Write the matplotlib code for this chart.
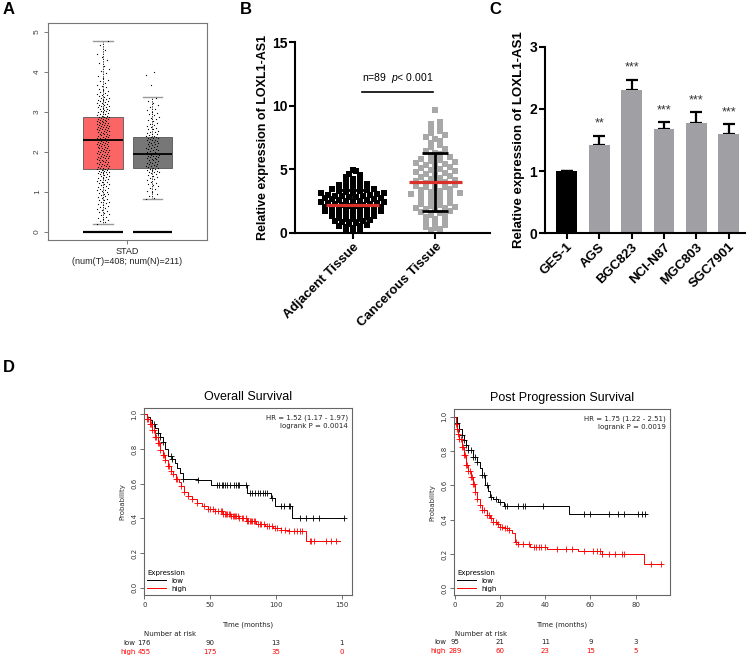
import matplotlib
matplotlib.use("Agg")
import matplotlib.pyplot as plt
import matplotlib.transforms as mtransforms
from matplotlib.lines import Line2D
import numpy as np

plt.rcParams['font.family'] = ['Liberation Sans', 'DejaVu Sans']
plt.rcParams['mathtext.fontset'] = 'custom'
plt.rcParams['mathtext.it'] = 'Liberation Sans:italic'
plt.rcParams['mathtext.rm'] = 'Liberation Sans'

# ---------------- data ----------------
# A: GEPIA box plot (STAD)
gepia_groups = ['Tumor', 'Normal']
gepia_box = [
    dict(med=2.30, q1=1.58, q3=2.87, whislo=0.20, whishi=4.77, fliers=[]),
    dict(med=1.95, q1=1.60, q3=2.38, whislo=0.82, whishi=3.38, fliers=[]),
]
tumor_vals = [
    0.21, 0.24, 0.27, 0.3, 0.33, 0.35, 0.38, 0.42, 0.45, 0.47, 0.5, 0.53, 0.55, 0.58, 0.6, 0.62,
    0.65, 0.67, 0.69, 0.72, 0.74, 0.76, 0.79, 0.81, 0.83, 0.86, 0.88, 0.9, 0.92, 0.94, 0.96, 0.98,
    1.01, 1.02, 1.04, 1.06, 1.08, 1.1, 1.12, 1.13, 1.15, 1.17, 1.19, 1.2, 1.22, 1.24, 1.26, 1.27,
    1.29, 1.31, 1.32, 1.34, 1.36, 1.37, 1.39, 1.41, 1.42, 1.44, 1.45, 1.47, 1.48, 1.49,
    1.5, 1.51, 1.52, 1.53, 1.54, 1.55, 1.57, 1.58, 1.59, 1.6, 1.61, 1.63, 1.64, 1.65, 1.66, 1.67,
    1.69, 1.7, 1.71, 1.72, 1.74, 1.75, 1.76, 1.77, 1.79, 1.8, 1.81, 1.82, 1.84, 1.85, 1.86, 1.87,
    1.88, 1.89, 1.9, 1.91, 1.93, 1.94, 1.95, 1.96, 1.98, 1.99,
    2.0, 2.01, 2.02, 2.03, 2.04, 2.05, 2.06, 2.08, 2.09, 2.1, 2.11, 2.12, 2.13, 2.14, 2.16, 2.17,
    2.18, 2.19, 2.2, 2.21, 2.22, 2.23, 2.24, 2.25, 2.26, 2.27, 2.28, 2.29, 2.3, 2.31, 2.32, 2.33,
    2.34, 2.35, 2.36, 2.37, 2.38, 2.39, 2.41, 2.42, 2.43, 2.44, 2.45, 2.46, 2.48, 2.49,
    2.5, 2.51, 2.52, 2.53, 2.54, 2.55, 2.56, 2.57, 2.58, 2.59, 2.6, 2.61, 2.62, 2.63, 2.64, 2.65,
    2.66, 2.67, 2.68, 2.69, 2.7, 2.71, 2.72, 2.73, 2.74, 2.75, 2.76, 2.77, 2.78, 2.79, 2.8, 2.81,
    2.82, 2.83, 2.84, 2.85, 2.86, 2.87, 2.88, 2.89, 2.9, 2.92, 2.94, 2.95, 2.97, 2.99,
    3.0, 3.01, 3.03, 3.04, 3.05, 3.07, 3.08, 3.1, 3.11, 3.12, 3.14, 3.15, 3.17, 3.18, 3.2, 3.21,
    3.23, 3.24, 3.26, 3.27, 3.29, 3.3, 3.32, 3.34, 3.35, 3.37, 3.39, 3.41, 3.43, 3.45, 3.47, 3.49,
    3.52, 3.55, 3.58, 3.61, 3.65, 3.68, 3.72, 3.76, 3.8, 3.85, 3.9, 3.96,
    4.02, 4.08, 4.15, 4.22, 4.3, 4.38, 4.45, 4.55, 4.66, 4.77,
]
normal_vals = [
    0.82, 0.86, 0.9, 0.95, 0.99, 1.03, 1.07, 1.1, 1.14, 1.17, 1.2, 1.23, 1.26, 1.29, 1.32, 1.35,
    1.38, 1.4, 1.43, 1.45, 1.47, 1.49,
    1.5, 1.51, 1.53, 1.54, 1.56, 1.57, 1.58, 1.6, 1.61, 1.62, 1.64, 1.65, 1.66, 1.68, 1.69, 1.7,
    1.72, 1.73, 1.75, 1.76, 1.78, 1.79, 1.8, 1.82, 1.83, 1.85, 1.86, 1.87, 1.88, 1.89, 1.9, 1.91,
    1.92, 1.93, 1.94, 1.95, 1.97, 1.98,
    2.0, 2.01, 2.02, 2.04, 2.05, 2.07, 2.08, 2.1, 2.11, 2.13, 2.14, 2.16, 2.17, 2.19, 2.2, 2.22,
    2.23, 2.25, 2.26, 2.28, 2.29, 2.3, 2.31, 2.33, 2.34, 2.35, 2.36, 2.37, 2.38, 2.4, 2.41, 2.43,
    2.44, 2.46, 2.47, 2.49,
    2.51, 2.53, 2.56, 2.58, 2.6, 2.63, 2.65, 2.68, 2.7, 2.73, 2.76, 2.79, 2.82, 2.85, 2.88, 2.91,
    2.94, 2.97, 3.0, 3.04, 3.08, 3.12, 3.17, 3.22, 3.28, 3.34, 3.66, 3.92, 4.0,
]

# B: tissue scatter
tissue_labels = ['Adjacent Tissue', 'Cancerous Tissue']
adjacent_vals = [
    0.21, 0.28, 0.33, 0.37, 0.45, 0.52, 0.58, 0.66, 0.71, 0.78, 0.84, 0.92, 0.97, 1.03, 1.08,
    1.12, 1.19, 1.24, 1.31, 1.36, 1.42, 1.45, 1.51, 1.57, 1.62, 1.66, 1.71, 1.74, 1.79, 1.83,
    1.88, 1.91, 1.95, 1.99, 2.03, 2.06, 2.11, 2.14, 2.18, 2.22, 2.25, 2.29, 2.33, 2.36, 2.41,
    2.44, 2.48, 2.52, 2.56, 2.61, 2.64, 2.68, 2.72, 2.77, 2.81, 2.85, 2.88, 2.93, 2.97, 3.02,
    3.06, 3.11, 3.14, 3.18, 3.22, 3.27, 3.31, 3.36, 3.42, 3.47, 3.55, 3.62, 3.68, 3.74, 3.83,
    3.91, 4.02, 4.13, 4.27, 4.38, 4.52, 4.66, 4.84, 4.97, 1.15, 1.68, 2.01, 2.47, 2.9,
]
cancerous_vals = [
    0.22, 0.3, 0.38, 0.5, 0.62, 0.75, 0.88, 1.0, 1.1, 1.22, 1.35, 1.45,
    1.55, 1.62, 1.7, 1.78, 1.85, 1.93, 2.0, 2.08, 2.15, 2.22, 2.3, 2.38, 2.46, 2.55, 2.63, 2.72,
    2.8, 2.88, 2.95, 2.99,
    3.05, 3.12, 3.2, 3.28, 3.35, 3.42, 3.5, 3.58, 3.65, 3.72, 3.8, 3.88, 3.95, 4.03, 4.1, 4.18,
    4.26, 4.34, 4.42, 4.49,
    4.56, 4.64, 4.72, 4.8, 4.88, 4.95, 5.03, 5.1, 5.18, 5.26, 5.34, 5.42, 5.5, 5.58, 5.67, 5.76,
    5.85, 5.94,
    6.05, 6.18, 6.3, 6.45, 6.6, 6.75, 6.9, 7.05, 7.2, 7.35, 7.52, 7.68, 7.85, 8.02, 8.2, 8.38,
    8.55, 8.7, 9.68,
]
tissue_mean = [2.2, 4.0]
tissue_sd = [1.2, 2.25]

# C: cell lines
cell_lines = ['GES-1', 'AGS', 'BGC823', 'NCI-N87', 'MGC803', 'SGC7901']
cell_means = [1.0, 1.42, 2.30, 1.68, 1.78, 1.60]
cell_err = [0.0, 0.15, 0.17, 0.11, 0.17, 0.16]
cell_sig = ['', '**', '***', '***', '***', '***']

# D: Kaplan-Meier curves
os_low_t = [0, 2, 4, 6, 8, 10, 12, 14, 16, 18, 21, 23, 25, 27, 29, 41, 51, 78, 96, 99.3, 112, 152]
os_low_s = [1.0, 0.985, 0.967, 0.945, 0.92, 0.89, 0.87, 0.84, 0.8, 0.76, 0.74, 0.72, 0.69,
            0.66, 0.627, 0.62, 0.59, 0.545, 0.516, 0.47, 0.40, 0.40]
os_low_cens = [7, 10, 12, 14, 20, 21, 29, 41, 55, 57, 59, 60, 61, 63, 65, 68, 70, 71, 72, 77,
               80, 82, 84, 86, 88, 90, 92, 93, 97, 104, 106, 110, 111, 118, 123, 128, 133, 152]
os_high_t = [0, 2, 4, 6, 8, 10, 12, 14, 16, 18, 20, 22, 24, 26, 28, 30, 33, 36, 40, 44, 48, 54,
             60, 66, 72, 78, 85, 92, 98, 104, 110, 123, 149]
os_high_s = [1.0, 0.975, 0.945, 0.91, 0.87, 0.835, 0.795, 0.765, 0.735, 0.705, 0.675, 0.655,
             0.63, 0.61, 0.585, 0.555, 0.53, 0.51, 0.49, 0.47, 0.455, 0.44, 0.425, 0.415, 0.40,
             0.385, 0.367, 0.355, 0.343, 0.335, 0.329, 0.271, 0.271]
os_high_cens = [2, 3, 4, 5, 6, 7, 8, 9, 10, 11, 12, 14, 15, 16, 18, 19, 20, 22, 24, 25, 28, 30,
                33, 36, 40, 45, 48, 50, 52, 54, 56, 58, 59, 60, 61, 62, 63, 64, 65, 66, 67, 68,
                69, 70, 71, 72, 74, 75, 77, 78, 79, 80, 81, 82, 83, 84, 86, 88, 89, 91, 93, 95,
                97, 99, 101, 104, 107, 110, 114, 116, 118, 120, 126, 127, 129, 138, 142, 146]
os_risk_t = [0, 50, 100, 150]
os_risk_low = [176, 90, 13, 1]
os_risk_high = [455, 175, 35, 0]

pps_low_t = [0, 1, 2, 3, 4, 5, 6, 8, 9.6, 11, 12, 13.3, 14.5, 15.5, 17, 19.2, 21.7, 50.6, 84.8]
pps_low_s = [1.0, 0.965, 0.93, 0.895, 0.864, 0.835, 0.805, 0.767, 0.737, 0.70, 0.66, 0.60,
             0.565, 0.534, 0.52, 0.50, 0.479, 0.433, 0.433]
pps_low_cens = [1, 2, 3, 4, 5, 6, 7, 8, 9, 10, 12, 13, 14, 16, 18, 20, 22, 23, 28, 30, 31, 39,
                57, 60, 68, 72, 75, 81, 83, 84]
pps_high_t = [0, 0.5, 1, 1.5, 2, 3, 4, 5, 6, 7, 8, 9, 10, 11, 12, 14, 15.5, 17, 18.5, 20, 22,
              24, 25.1, 26.6, 28, 33.2, 40.6, 54.6, 64.9, 83.8, 91.8]
pps_high_s = [1.0, 0.96, 0.93, 0.90, 0.87, 0.825, 0.775, 0.72, 0.685, 0.65, 0.61, 0.56, 0.52,
              0.485, 0.456, 0.427, 0.41, 0.388, 0.372, 0.359, 0.35, 0.34, 0.32, 0.27, 0.257,
              0.242, 0.23, 0.216, 0.198, 0.144, 0.144]
pps_high_cens = [0.5, 1, 1.5, 2, 2.5, 3, 3.5, 4, 4.5, 5, 5.5, 6, 6.5, 7, 7.5, 8, 8.5, 9, 10, 11,
                 12, 13, 14, 15, 16, 17, 18, 19, 20, 21, 22, 23, 24, 27, 28, 30, 33, 35, 36, 37,
                 38, 40, 45, 49, 52, 57, 61, 63, 64, 65, 68, 71, 74, 75, 87, 91]
pps_risk_t = [0, 20, 40, 60, 80]
pps_risk_low = [95, 21, 11, 9, 3]
pps_risk_high = [289, 60, 23, 15, 5]

# ---------------- figure ----------------
W, H = 753, 657
fig = plt.figure(figsize=(W / 100, H / 100), dpi=100)


def rect(l, t, r, b):
    return [l / W, 1 - b / H, (r - l) / W, (b - t) / H]


# ---- A ----
axA = fig.add_axes(rect(48, 23, 207, 240))
posA = [0.346, 0.657]
wA = 0.25
bp = axA.bxp(gepia_box, positions=posA, widths=wA, patch_artist=True, showfliers=False,
             whiskerprops=dict(color='black', lw=0.6, ls=(0, (1.5, 1.5))),
             capprops=dict(color='#999999', lw=1.0),
             medianprops=dict(color='black', lw=1.3),
             boxprops=dict(edgecolor='#555555', lw=0.6))
for patch, fc in zip(bp['boxes'], ['#fb6565', '#777777']):
    patch.set_facecolor(fc)
for p in posA:
    axA.hlines(0, p - wA / 2, p + wA / 2, color='black', lw=1.6)
for p, vals in zip(posA, [tumor_vals, normal_vals]):
    idx = np.arange(len(vals))
    jit = ((idx * 0.6180339887) % 1 - 0.5) * 0.08
    axA.scatter(p + jit, vals, s=0.8, color='black', lw=0, zorder=4)
axA.set_xlim(0, 1)
axA.set_ylim(-0.2, 5.22)
axA.set_xticks([0.5])
axA.set_xticklabels(['STAD\n(num(T)=408; num(N)=211)'], fontsize=6.5, color='#222222')
axA.set_yticks([0, 1, 2, 3, 4, 5])
axA.set_yticklabels(['0', '1', '2', '3', '4', '5'], rotation=90, va='center', fontsize=6,
                    color='#444444')
axA.tick_params(length=3, width=0.6, color='#666666', pad=2)
for s in axA.spines.values():
    s.set_color('#777777')
    s.set_linewidth(0.8)


# ---- B ----
def swarm(vals, row_h, step):
    vals = np.asarray(vals)
    order = np.argsort(vals)
    v = vals[order]
    bins = np.floor(v / row_h).astype(int)
    offs = np.zeros(len(v))
    for b in np.unique(bins):
        m = np.where(bins == b)[0]
        k = len(m)
        o = (np.arange(k) - (k - 1) / 2) * step
        o = o[np.argsort(np.abs(o), kind='stable')]
        offs[m] = o
    return v, offs


axB = fig.add_axes(rect(295, 42, 490, 233))
for i, (vals, col, step) in enumerate(zip([adjacent_vals, cancerous_vals],
                                          ['black', '#a8a8a8'], [0.085, 0.12])):
    v, o = swarm(vals, 0.35, step)
    axB.scatter(i + o, v, marker='s', s=14, color=col, lw=0, zorder=2)
for i in range(2):
    axB.errorbar(i, tissue_mean[i], yerr=tissue_sd[i], fmt='none', ecolor='black',
                 elinewidth=2, capsize=9.5, capthick=2, zorder=3)
    axB.hlines(tissue_mean[i], i - 0.32, i + 0.32, color='#d8322b', lw=2.3, zorder=4)
axB.plot([0.11, 0.97], [11.1, 11.1], color='black', lw=1.2)
axB.text(0.54, 12.15, 'n=89  $p$< 0.001', ha='center', va='center', fontsize=7.5)
axB.set_xlim(-0.70, 1.66)
axB.set_ylim(0, 15)
axB.set_yticks([0, 5, 10, 15])
axB.set_xticks([0, 1])
axB.set_xticklabels(tissue_labels, rotation=45, ha='right', va='top', rotation_mode='anchor',
                    fontsize=9.5, fontweight='bold')
for t in axB.get_yticklabels():
    t.set_fontweight('bold')
    t.set_fontsize(10)
axB.set_ylabel('Relative expression of LOXL1-AS1', fontsize=9, fontweight='bold', labelpad=2)
axB.spines['top'].set_visible(False)
axB.spines['right'].set_visible(False)
for s in ['left', 'bottom']:
    axB.spines[s].set_linewidth(1.5)
axB.tick_params(length=4, width=1.5, pad=1.5)

# ---- C ----
axC = fig.add_axes(rect(545, 46.7, 745, 233.3))
xC = np.arange(len(cell_lines))
colsC = ['black'] + ['#a0a0a4'] * (len(cell_lines) - 1)
axC.errorbar(xC, cell_means, yerr=[np.zeros(len(xC)), cell_err], fmt='none', ecolor='black',
             elinewidth=1.6, capsize=4.5, capthick=1.6, zorder=1)
axC.bar(xC, cell_means, width=0.64, color=colsC, zorder=2)
for x, m, e, s in zip(xC, cell_means, cell_err, cell_sig):
    if s:
        axC.text(x, m + e + 0.19, s, ha='center', va='center', fontsize=9, color='#333333')
axC.set_xlim(-0.67, 5.5)
axC.set_ylim(0, 3)
axC.set_yticks([0, 1, 2, 3])
axC.set_xticks(xC)
axC.set_xticklabels(cell_lines, rotation=45, ha='right', va='top', rotation_mode='anchor',
                    fontsize=9.5, fontweight='bold')
for t in axC.get_yticklabels():
    t.set_fontweight('bold')
    t.set_fontsize(10)
axC.set_ylabel('Relative expression of LOXL1-AS1', fontsize=9.5, fontweight='bold', labelpad=3)
axC.spines['top'].set_visible(False)
axC.spines['right'].set_visible(False)
for s in ['left', 'bottom']:
    axC.spines[s].set_linewidth(1.5)
axC.tick_params(length=4, width=1.5, pad=1.5)


# ---- D ----
def km_panel(box, title, xlim, ylim, xticks, curves, hr_text, risk_t, risk_low, risk_high):
    ax = fig.add_axes(rect(*box))
    for t, s, cens, col in curves:
        t = np.asarray(t)
        s = np.asarray(s)
        ax.step(t, s, where='post', color=col, lw=0.7)
        c = np.asarray(cens)
        cy = s[np.searchsorted(t, c, side='right') - 1]
        ax.plot(c, cy, '+', ms=4, mew=0.6, color=col, ls='none')
    ax.set_xlim(*xlim)
    ax.set_ylim(*ylim)
    ax.set_xticks(xticks)
    ax.set_xticklabels([str(v) for v in xticks], fontsize=5, family='DejaVu Sans', color='#333333')
    yt = [0, 0.2, 0.4, 0.6, 0.8, 1.0]
    ax.set_yticks(yt)
    ax.set_yticklabels(['%.1f' % v for v in yt], rotation=90, va='center', fontsize=5,
                       family='DejaVu Sans', color='#333333')
    ax.tick_params(length=3, width=0.6, color='#555555', pad=2)
    for sp in ax.spines.values():
        sp.set_color('#666666')
        sp.set_linewidth(0.8)
    ax.set_title(title, fontsize=9, pad=6)
    ax.set_ylabel('Probability', fontsize=5, family='DejaVu Sans', labelpad=4, color='#333333')
    ax.text(0.982, 0.965, hr_text, transform=ax.transAxes, ha='right', va='top', fontsize=5,
            family='DejaVu Sans', linespacing=1.25, color='#222222')
    handles = [Line2D([], [], color='black', lw=0.7), Line2D([], [], color='red', lw=0.7)]
    leg = ax.legend(handles, ['low', 'high'], title='Expression', loc='lower left',
                    frameon=False, prop=dict(family='DejaVu Sans', size=5), title_fontsize=5,
                    handlelength=2.6, alignment='left', borderaxespad=0.3, labelspacing=0.25,
                    handletextpad=0.8, borderpad=0.2)
    leg.get_title().set_family('DejaVu Sans')
    trans = mtransforms.blended_transform_factory(ax.transData, ax.transAxes)
    ax.text(0.5, -0.161, 'Time (months)', transform=ax.transAxes, ha='center', va='center',
            fontsize=5, family='DejaVu Sans', color='#222222')
    ax.text(risk_t[0], -0.209, 'Number at risk', transform=trans, ha='left', va='center',
            fontsize=5, family='DejaVu Sans', color='#222222')
    lab_trans = mtransforms.offset_copy(trans, fig=fig, x=-9, y=0, units='dots')
    for yy, lab, vals, col in [(-0.255, 'low', risk_low, '#222222'),
                               (-0.303, 'high', risk_high, 'red')]:
        ax.text(risk_t[0], yy, lab, transform=lab_trans, ha='right', va='center', fontsize=5,
                family='DejaVu Sans', color=col)
        for tt, n in zip(risk_t, vals):
            ax.text(tt, yy, str(n), transform=trans, ha='center', va='center', fontsize=5,
                    family='DejaVu Sans', color=col)
    return ax


km_panel((144, 408.3, 351.7, 595), 'Overall Survival', (-0.3, 157.6), (-0.042, 1.035),
         os_risk_t,
         [(os_low_t, os_low_s, os_low_cens, 'black'),
          (os_high_t, os_high_s, os_high_cens, 'red')],
         'HR = 1.52 (1.17 - 1.97)\nlogrank P = 0.0014', os_risk_t, os_risk_low, os_risk_high)
km_panel((454, 409.3, 670, 595), 'Post Progression Survival', (-0.4, 95.2), (-0.039, 1.043),
         pps_risk_t,
         [(pps_low_t, pps_low_s, pps_low_cens, 'black'),
          (pps_high_t, pps_high_s, pps_high_cens, 'red')],
         'HR = 1.75 (1.22 - 2.51)\nlogrank P = 0.0019', pps_risk_t, pps_risk_low, pps_risk_high)

# panel letters
for lab, x, y in [('A', 3, 9), ('B', 240, 9), ('C', 489, 9), ('D', 3, 368)]:
    fig.text(x / W, 1 - y / H, lab, fontsize=12, fontweight='bold', ha='left', va='center')

fig.savefig('out.png', dpi=100)
